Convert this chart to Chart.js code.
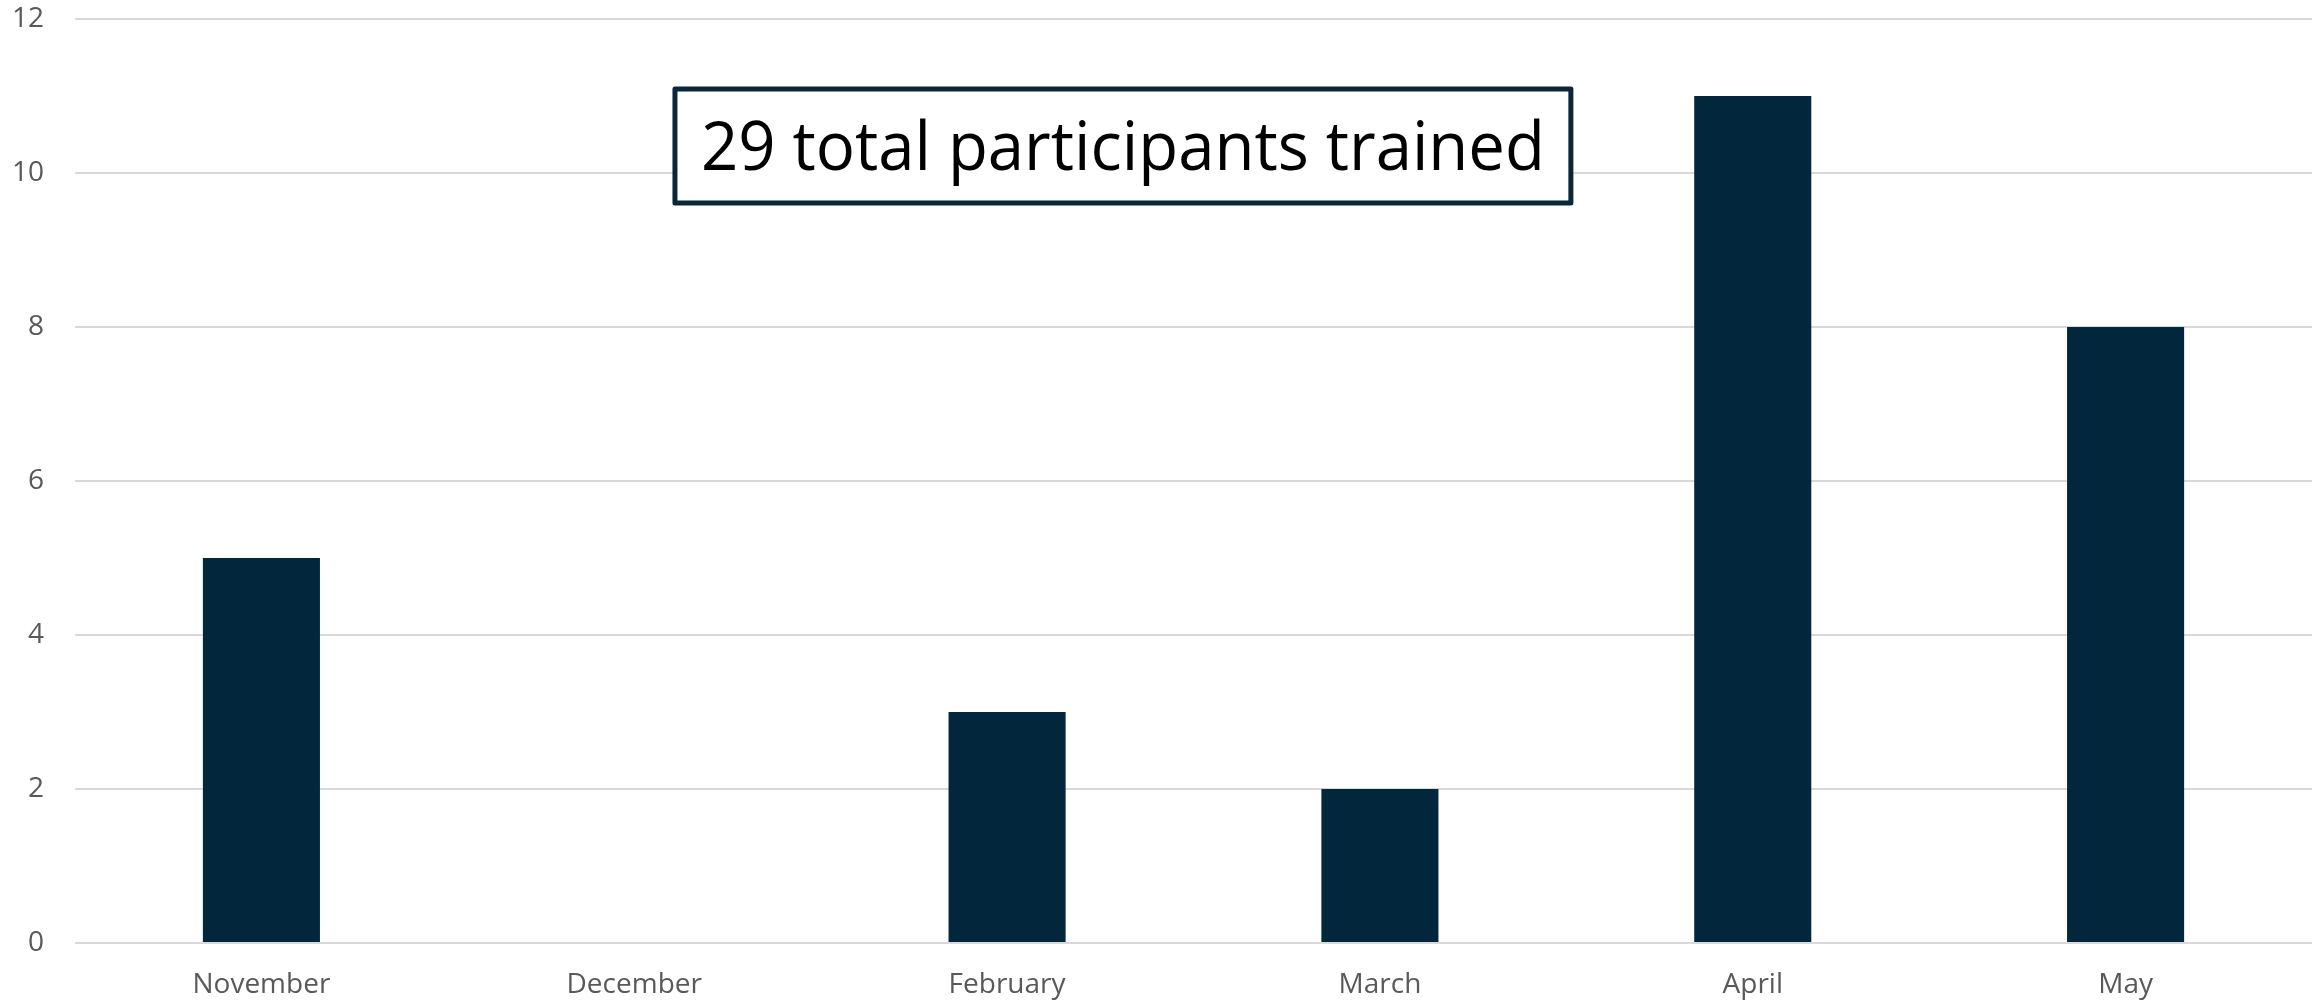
<!DOCTYPE html>
<html>
<head>
<meta charset="utf-8">
<title>Participants trained</title>
<script src="https://cdn.jsdelivr.net/npm/chart.js@4.4.1/dist/chart.umd.min.js"></script>
<style>
    html, body { margin: 0; padding: 0; background: #ffffff; }
    #wrap { width: 2320px; height: 1000px; }
</style>
</head>
<body>
<div id="wrap">
    <canvas id="barChart" width="2320" height="1000"></canvas>
</div>
<script>
var months = ['November', 'December', 'February', 'March', 'April', 'May'];
var participants = [5, 0, 3, 2, 11, 8];
var yTicks = [0, 2, 4, 6, 8, 10, 12];
var boxText = '29 total participants trained';

// caja de texto con el total, encima de la gráfica
var totalBox = {
    id: 'totalBox',
    afterDatasetsDraw: function (chart) {
        var ctx = chart.ctx;
        var area = chart.chartArea;
        var w = area.right - area.left;
        var left = area.left + w * 0.2682;
        var right = area.left + w * 0.6687;
        var top = area.top + 70;
        var bottom = area.top + 184;

        ctx.save();
        ctx.fillStyle = '#ffffff';
        ctx.fillRect(left, top, right - left, bottom - top);
        ctx.lineWidth = 5;
        ctx.strokeStyle = '#0a2638';
        ctx.lineJoin = 'round';
        ctx.strokeRect(left, top, right - left, bottom - top);

        ctx.font = '68px "Open Sans"';
        ctx.fillStyle = '#000000';
        ctx.textAlign = 'center';
        ctx.textBaseline = 'alphabetic';
        var textW = ctx.measureText(boxText).width;
        var sx = 844 / textW;
        var cx = (left + right) / 2;
        ctx.translate(cx, (top + bottom) / 2 + 24);
        ctx.scale(sx, 1);
        ctx.fillText(boxText, 0, 0);
        ctx.restore();
    }
};

var barCtx = document.getElementById('barChart');
new Chart(barCtx, {
    type: 'bar',
    data: {
        labels: months,
        datasets: [{
            label: 'Participants',
            data: participants,
            backgroundColor: '#02263b',
            borderWidth: 0,
            categoryPercentage: 1,
            barPercentage: 0.314
        }]
    },
    options: {
        responsive: false,
        animation: false,
        layout: {
            padding: { top: 19, right: 8, bottom: 0, left: 0 }
        },
        plugins: {
            legend: { display: false },
            tooltip: { enabled: false }
        },
        scales: {
            x: {
                grid: { display: false },
                border: { display: false },
                ticks: {
                    color: '#595959',
                    padding: 17,
                    font: { family: 'Open Sans', size: 28 }
                },
                afterFit: function (scale) {
                    scale.height = 57;
                    scale.paddingLeft = 0;
                    scale.paddingRight = 0;
                }
            },
            y: {
                min: 0,
                max: 12,
                afterBuildTicks: function (scale) {
                    scale.ticks = yTicks.map(function (v) { return { value: v }; });
                },
                grid: {
                    color: '#d9d9d9',
                    lineWidth: 2,
                    drawTicks: false
                },
                border: { display: false },
                ticks: {
                    color: '#595959',
                    padding: 31,
                    font: { family: 'Open Sans', size: 28 }
                },
                afterFit: function (scale) {
                    scale.width = 75;
                    scale.paddingTop = 0;
                    scale.paddingBottom = 0;
                }
            }
        }
    },
    plugins: [totalBox]
});
</script>
</body>
</html>
